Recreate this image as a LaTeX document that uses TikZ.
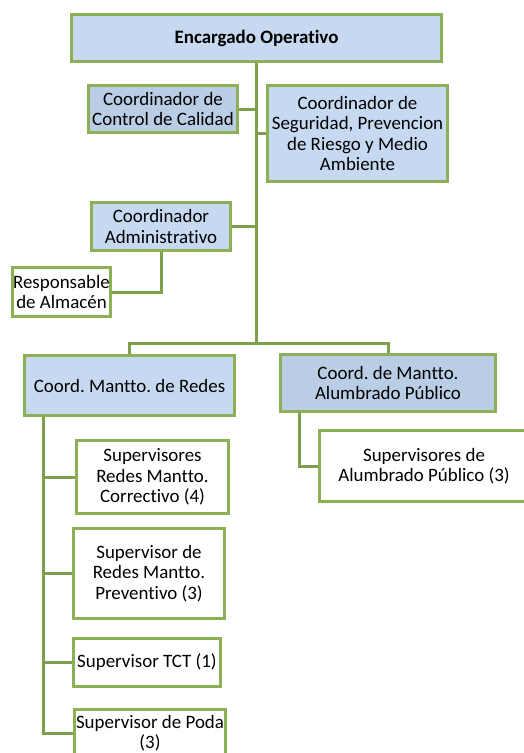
\documentclass[tikz,border=0pt]{standalone}
\usepackage{fontspec}
\setmainfont{Carlito}[Ligatures=NoCommon]
\usepackage{tikz}
\usetikzlibrary{calc}
\frenchspacing

\definecolor{verdeborde}{HTML}{8DAF55}
\definecolor{verdelinea}{HTML}{7F9F4B}
\definecolor{azulclaro}{HTML}{C6D9F1}
\definecolor{azulosc}{HTML}{B9CDE5}

\begin{document}
\begin{tikzpicture}[x=1bp, y=-1bp,
    caja/.style={draw=verdeborde, line width=3bp, fill=azulclaro, align=center,
        inner sep=0.5bp, font=\fontsize{19}{20.5}\selectfont},
    cajaosc/.style={caja, fill=azulosc},
    cajablanca/.style={caja, fill=white},
    linea/.style={draw=verdelinea, line width=3bp}]
    \clip (0,0) rectangle (524,753);
    \fill[white] (0,0) rectangle (524,753);

    % Encargado y coordinadores
    \node[caja, minimum width=370bp, minimum height=47bp] (enc) at (256.5,38)
        {\bfseries Encargado Operativo};
    \node[cajaosc, minimum width=149bp, minimum height=47bp] (calidad) at (163,109)
        {Coordinador de\\Control de Calidad};
    \node[caja, minimum width=180bp, minimum height=96bp] (seguridad) at (357.5,133.5)
        {Coordinador de\\Seguridad, Prevencion\\de Riesgo y Medio\\Ambiente};
    \node[caja, minimum width=139bp, minimum height=48bp] (admin) at (161,226.5)
        {Coordinador\\Administrativo};
    \node[cajablanca, minimum width=98bp, minimum height=49bp] (almacen) at (61.5,292)
        {Responsable\\de Almac\'en};

    % Coordinaciones de mantenimiento
    \node[caja, minimum width=210bp, minimum height=60bp] (redes) at (129.5,385.5)
        {Coord. Mantto. de Redes};
    \node[cajaosc, minimum width=215bp, minimum height=57bp] (alumbrado) at (388,383)
        {Coord. de Mantto.\\Alumbrado P\'ublico};

    % Supervisores
    \node[cajablanca, minimum width=152bp, minimum height=73bp] (correctivo) at (152.5,477)
        {Supervisores\\Redes Mantto.\\Correctivo (4)};
    \node[cajablanca, minimum width=151bp, minimum height=90bp] (preventivo) at (149,573.5)
        {Supervisor de\\Redes Mantto.\\Preventivo (3)};
    \node[cajablanca, minimum width=147bp, minimum height=48bp] (tct) at (147,662.5)
        {Supervisor TCT (1)};
    \node[cajablanca, minimum width=151bp, minimum height=47bp] (poda) at (150,733)
        {Supervisor de Poda\\(3)};
    \node[cajablanca, minimum width=209bp, minimum height=71bp] (supalumbrado) at (424,466)
        {Supervisores de\\Alumbrado P\'ublico (3)};

    % Conectores
    \coordinate (bus) at (256.5,343);
    \draw[linea] (enc.south) -- (bus);
    \draw[linea] (redes.north) |- (bus) -| (alumbrado.north);
    \draw[linea] (calidad.east) -- (calidad.east -| enc.south);
    \draw[linea] (seguridad.west) -- (seguridad.west -| enc.south);
    \draw[linea] (admin.east) -- (admin.east -| enc.south);
    \draw[linea] (admin.south) |- (almacen.east);
    \foreach \n in {correctivo, preventivo, tct, poda}
        \draw[linea] ([xshift=20.5bp]redes.south west) |- (\n.west);
    \draw[linea] ([xshift=20.5bp]alumbrado.south west) |- (supalumbrado.west);
\end{tikzpicture}
\end{document}
